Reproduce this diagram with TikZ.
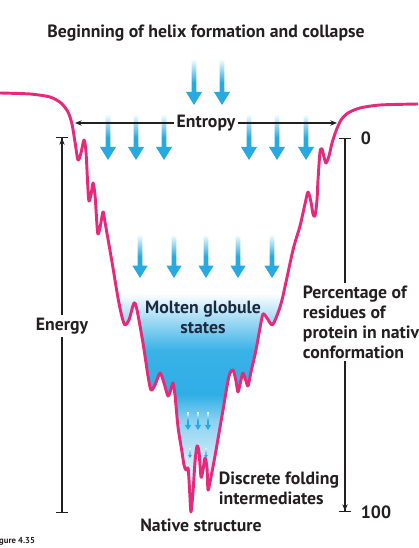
\documentclass[tikz,border=0pt]{standalone}
\usepackage{fontspec}
\setmainfont{PT Sans}
\usetikzlibrary{arrows.meta}
\definecolor{funnelPink}{HTML}{E62A7B}
\definecolor{arrowBlue}{HTML}{27A9E1}
\definecolor{globBlue}{HTML}{2FAEE6}
\definecolor{inkGray}{HTML}{231F20}
\definecolor{navyText}{HTML}{1B2A40}

\pgfdeclareverticalshading{funnelfill}{100bp}{color(0bp)=(globBlue!8); color(25bp)=(globBlue!8); color(34bp)=(globBlue!25); color(43bp)=(globBlue!55); color(49bp)=(globBlue); color(59bp)=(globBlue!95); color(66bp)=(globBlue!45); color(72bp)=(white); color(100bp)=(white)}

\begin{document}
\begin{tikzpicture}[
  x=0.75pt,y=-0.75pt,
  >={Stealth[length=5pt,width=4pt]},
  lbl/.style={font=\bfseries\fontsize{13.3}{15}\selectfont,text=inkGray,inner sep=2pt},
  axis/.style={inkGray,line width=0.8pt},
  funnel/.style={funnelPink,line width=2.2pt,line join=round},
  fallarrow/.pic={\shade[top color=arrowBlue!5,bottom color=arrowBlue,middle color=arrowBlue]
    (-2.4,-45) -- (2.4,-45) -- (2.4,-13) -- (8,-13) -- (0,0) -- (-8,-13) -- (-2.4,-13) -- cycle;}
]
  \useasboundingbox (0,0) rectangle (418,548);
  \def\funnelpts{(0,93) (30,94) (50,97) (61,103) (68,112) (72,124) (75,142) (78,160) (81,153) (84,140) (86,152) (88,190) (89,201) (91,195) (93,183) (95,195) (97,225) (98,234) (100,228) (103,212) (105,222) (112,262) (118,298) (122,317) (125,325) (129,320) (134,303) (137,310) (143,343) (148,376) (151,390) (155,385) (160,373) (164,383) (168,396) (171,389) (173,383) (175,395) (178,427) (182,452) (184,465) (186,470) (188,468) (189,480) (190,498) (191,512) (193,492) (195,462) (197,446) (199,452) (201,477) (203,470) (205,458) (207,468) (208,490) (210,482) (215,456) (223,410) (229,376) (233,370) (236,381) (238,392) (241,380) (243,373) (246,381) (248,386) (251,372) (256,350) (260,328) (263,314) (267,318) (272,325) (276,318) (282,300) (293,250) (300,226) (305,204) (308,192) (311,202) (313,214) (315,216) (317,200) (318,180) (320,152) (322,149) (324,157) (326,163) (329,156) (332,143) (336,131) (341,120) (348,113) (360,108) (380,105) (418,104)}

  % blue filling of the funnel
  \begin{scope}
    \clip plot[smooth,tension=0.45] coordinates {\funnelpts} -- (418,0) -- (0,0) -- cycle;
    \shade[shading=funnelfill] (90,280) rectangle (330,500);
  \end{scope}
  \draw[funnel] plot[smooth,tension=0.45] coordinates {\funnelpts};

  % falling arrows
  \foreach \x in {194,222} \pic at (\x,105) {fallarrow};
  \foreach \x in {108,136,164,249,277,306} \pic at (\x,160) {fallarrow};
  \foreach \x in {140,174,206,238,272} \pic[scale=0.95] at (\x,278) {fallarrow};
  \foreach \x in {188,198,208} \pic[scale=0.4] at (\x,430) {fallarrow};
  \foreach \x in {190,206} \pic[scale=0.22] at (\x,458) {fallarrow};

  \node[lbl] (title) at (206,33) {Beginning of helix formation and collapse};

  \node[lbl] (entropy) at (206,123) {Entropy};
  \coordinate (entL) at (75,123);
  \coordinate (entR) at (337,123);
  \draw[axis,->] (entropy) -- (entL);
  \draw[axis,->] (entropy) -- (entR);

  \node[lbl] (energy) at (62,326) {Energy};
  \coordinate (enTop) at (62,137);
  \coordinate (enBot) at (62,513);
  \draw[axis,-{Stealth[length=5pt,width=4pt] Bar[width=9pt]}] (energy) -- (enTop);
  \draw[axis,-{Bar[width=9pt]}] (energy) -- (enBot);

  \node[lbl,align=left,anchor=west] (pct) at (300,322) {Percentage of\\residues of\\protein in native\\conformation};
  \coordinate (pTop) at (345,138);
  \coordinate (pBot) at (345,512);
  \draw[axis,-{Bar[width=9pt]}] (pTop |- pct.north) -- (pTop);
  \draw[axis,-{Stealth[length=5pt,width=4pt] Bar[width=9pt]}] (pct.south -| pBot) -- (pBot);
  \node[lbl,anchor=west] (zero) at (358,138) {0};
  \node[lbl,anchor=west] (hundred) at (358,512) {100};

  \node[lbl,text=navyText,align=center] (molten) at (203,317) {Molten globule\\states};
  \node[lbl,align=left,anchor=west] (discrete) at (216,488) {Discrete folding\\intermediates};
  \node[lbl] (native) at (201,525) {Native structure};

  \node[lbl,font=\bfseries\fontsize{6.5}{7}\selectfont,anchor=east] (figno) at (38,541) {Figure 4.35};
\end{tikzpicture}
\end{document}
